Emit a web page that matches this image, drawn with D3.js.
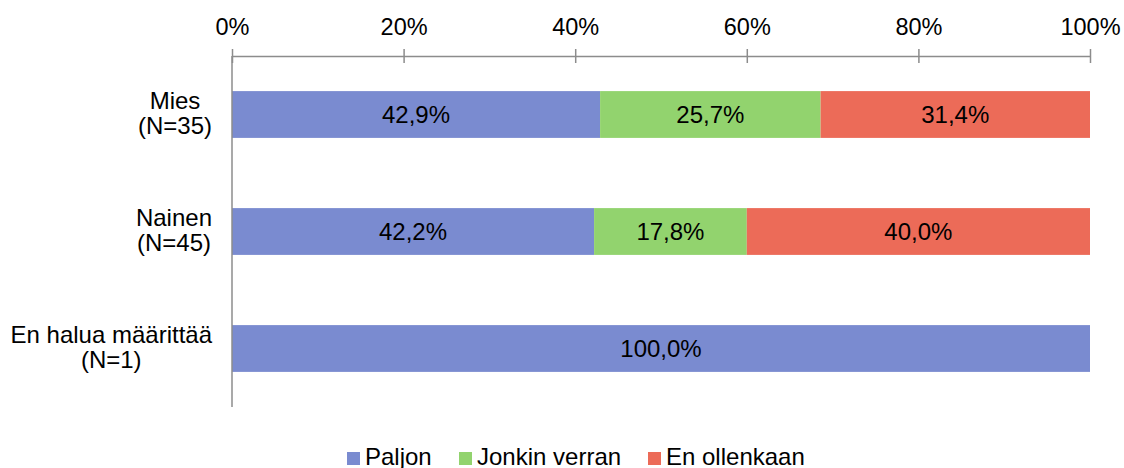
<!DOCTYPE html>
<html>
<head>
<meta charset="utf-8">
<script src="https://cdn.jsdelivr.net/npm/d3@7"></script>
<style>
  body { margin: 0; background: #fff; }
  text { font-family: "Liberation Sans", Arial, sans-serif; fill: #000; }
</style>
</head>
<body>
<div id="chart"></div>
<script>
// data
var categories = ["Mies", "Nainen", "En halua määrittää"];
var counts = ["(N=35)", "(N=45)", "(N=1)"];
var seriesNames = ["Paljon", "Jonkin verran", "En ollenkaan"];
var paljon = [42.9, 42.2, 100.0];
var jonkin = [25.7, 17.8, 0];
var eiollenkaan = [31.4, 40.0, 0];
var tickValues = [0, 20, 40, 60, 80, 100];
var colors = ["#7a8bd0", "#92d36e", "#ec6b58"];

var width = 1124, height = 468;
var plotLeft = 232, plotRight = 1090, plotTop = 56, plotBottom = 407;
var fontSize = "24px";

var svg = d3.select("#chart").append("svg")
    .attr("width", width)
    .attr("height", height);

var x = d3.scaleLinear().domain([0, 100]).range([plotLeft, plotRight]);
var y = d3.scaleBand().domain(categories).range([plotTop, plotBottom]).paddingInner(0.6).paddingOuter(0.3);

// build stacked rows
var rows = categories.map(function (c, i) {
    return { cat: c, Paljon: paljon[i], "Jonkin verran": jonkin[i], "En ollenkaan": eiollenkaan[i] };
});
var stack = d3.stack().keys(seriesNames)(rows);

var layers = svg.selectAll(".layer")
    .data(stack)
    .enter()
    .append("g")
    .attr("class", "layer")
    .attr("fill", function (d, i) { return colors[i]; });

layers.selectAll("rect")
    .data(function (d) { return d; })
    .enter()
    .append("rect")
    .attr("x", function (d) { return x(d[0]); })
    .attr("y", function (d) { return y(d.data.cat); })
    .attr("width", function (d) { return x(d[1]) - x(d[0]); })
    .attr("height", y.bandwidth());

// value labels
layers.selectAll("text")
    .data(function (d) { return d.filter(function (s) { return s[1] - s[0] > 0; }); })
    .enter()
    .append("text")
    .attr("x", function (d) { return (x(d[0]) + x(d[1])) / 2; })
    .attr("y", function (d) { return y(d.data.cat) + y.bandwidth() / 2 + 8; })
    .attr("text-anchor", "middle")
    .style("font-size", fontSize)
    .text(function (d) { return (d[1] - d[0]).toFixed(1).replace(".", ",") + "%"; });

// top axis
var axis = svg.append("g")
    .attr("transform", "translate(0," + plotTop + ")")
    .call(d3.axisTop(x).tickValues(tickValues)
        .tickFormat(function (d) { return d + "%"; })
        .tickSizeInner(7).tickSizeOuter(0).tickPadding(14));
axis.select(".domain").attr("stroke", "#8c8c8c").attr("stroke-width", 1.5);
axis.selectAll(".tick line").attr("stroke", "#8c8c8c").attr("stroke-width", 1.5)
    .attr("y1", 7).attr("y2", -7);
axis.selectAll("text").style("font-size", "23.5px").attr("fill", "#000")
    .style("font-family", "Liberation Sans, Arial, sans-serif");

// left axis line
svg.append("line")
    .attr("x1", plotLeft).attr("x2", plotLeft)
    .attr("y1", plotTop).attr("y2", plotBottom)
    .attr("stroke", "#8c8c8c").attr("stroke-width", 1.5);

// category labels, two centered lines, block right-aligned
categories.forEach(function (c, i) {
    var cy = y(c) + y.bandwidth() / 2;
    var g = svg.append("g");
    var t1 = g.append("text").style("font-size", fontSize).attr("text-anchor", "middle").text(c);
    var t2 = g.append("text").style("font-size", fontSize).attr("text-anchor", "middle").text(counts[i]);
    var w = Math.max(t1.node().getComputedTextLength(), t2.node().getComputedTextLength());
    var cx = 212 - w / 2;
    t1.attr("x", cx).attr("y", cy - 6);
    t2.attr("x", cx).attr("y", cy + 19);
});

// legend
var legendX = [347, 459, 648];
var legend = svg.selectAll(".legend")
    .data(seriesNames)
    .enter()
    .append("g")
    .attr("class", "legend")
    .attr("transform", function (d, i) { return "translate(" + legendX[i] + ",452)"; });
legend.append("rect")
    .attr("width", 13).attr("height", 13)
    .attr("fill", function (d, i) { return colors[i]; });
legend.append("text")
    .attr("x", 18).attr("y", 13)
    .style("font-size", fontSize)
    .text(function (d) { return d; });
</script>
</body>
</html>
